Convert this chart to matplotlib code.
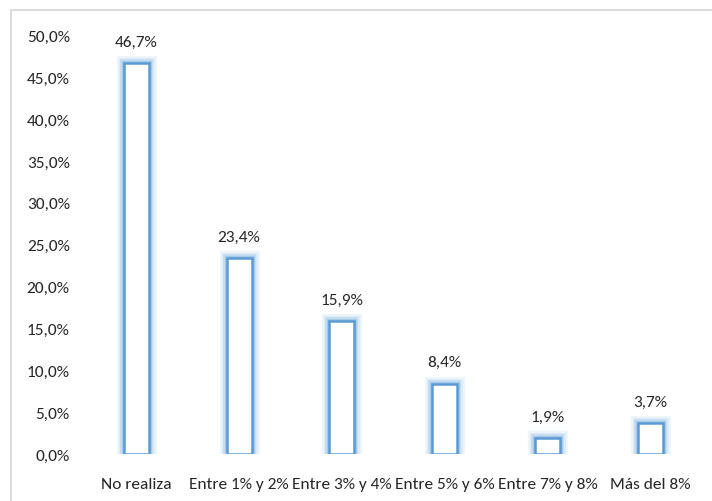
import matplotlib
matplotlib.use("Agg")
import matplotlib.pyplot as plt
import matplotlib.patheffects as pe
from matplotlib.patches import Rectangle

categories = ["No realiza", "Entre 1% y 2%", "Entre 3% y 4%", "Entre 5% y 6%", "Entre 7% y 8%", "Más del 8%"]
values = [46.7, 23.4, 15.9, 8.4, 1.9, 3.7]
yticks = [0, 5, 10, 15, 20, 25, 30, 35, 40, 45, 50]

plt.rcParams["font.family"] = ["Carlito", "DejaVu Sans"]
text_color = "#262626"
fs = 12.5

W, H = 712, 502
fig = plt.figure(figsize=(W / 100, H / 100), dpi=100)
fig.patch.set_facecolor("white")

# chart frame
fig.patches.append(Rectangle((11 / W, -0.1), 1.2, 1 - 11 / H + 0.1, transform=fig.transFigure,
                             fill=False, edgecolor="#D9D9D9", linewidth=1.3))

ax = fig.add_axes([85 / W, 47 / H, 616.5 / W, 418.7 / H])
ax.set_xlim(-0.5, len(categories) - 0.5)
ax.set_ylim(0, 50)

# outlined bars with a soft light-blue glow
edge = "#5B9BD5"
glow = [pe.Stroke(linewidth=11, foreground="#E8F1FA", alpha=0.7),
        pe.Stroke(linewidth=8, foreground="#D6E7F6", alpha=0.7),
        pe.Stroke(linewidth=5.5, foreground="#BDD7EE", alpha=0.8),
        pe.Stroke(linewidth=3.5, foreground="#9DC3E6", alpha=0.8),
        pe.Normal()]
bars = ax.bar(range(len(categories)), values, width=0.245, facecolor="white",
              edgecolor=edge, linewidth=1.8)
for b in bars:
    b.set_path_effects(glow)

for i, v in enumerate(values):
    ax.annotate(f"{v:.1f}%".replace(".", ","), (i, v), xytext=(0, 12.5), textcoords="offset points",
                ha="center", va="baseline", fontsize=fs, color=text_color)

ax.set_yticks(yticks)
ax.set_yticklabels([f"{t:.1f}%".replace(".", ",") for t in yticks], fontsize=fs, color=text_color)
ax.set_xticks(range(len(categories)))
ax.set_xticklabels(categories, fontsize=fs, color=text_color)
ax.tick_params(length=0)
ax.tick_params(axis="y", pad=11)
ax.tick_params(axis="x", pad=16.5)
for s in ax.spines.values():
    s.set_visible(False)

fig.savefig("out.png", dpi=100)
